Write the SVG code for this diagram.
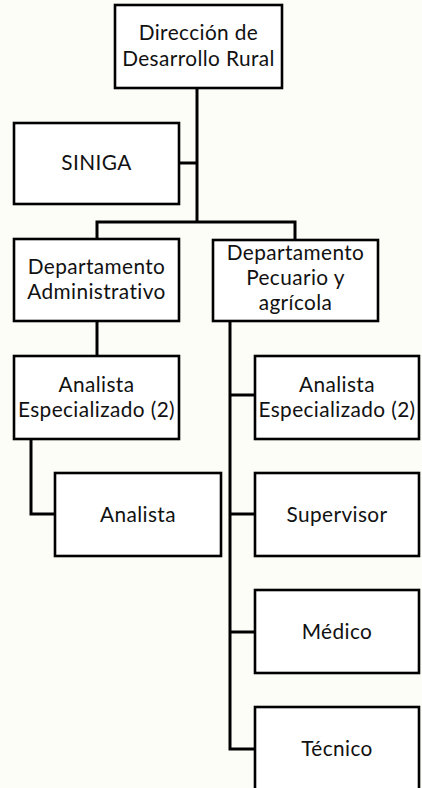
<svg xmlns="http://www.w3.org/2000/svg" width="422" height="788" viewBox="0 0 422 788">
<style>
.box{fill:#ffffff;stroke:#000000;stroke-width:2.6}
.lbl{font-family:Lato,"Noto Sans",sans-serif;font-size:20.8px;letter-spacing:0.4px;fill:#111111;text-anchor:middle}
.conn{fill:none;stroke:#000000;stroke-width:3}
</style>
<rect x="0" y="0" width="422" height="788" fill="#fdfdf8"/>
<g id="connectors">
<path class="conn" d="M197 88V222"/>
<path class="conn" d="M179 163H197"/>
<path class="conn" d="M97 239V222H295V240"/>
<path class="conn" d="M97 321V356"/>
<path class="conn" d="M31 439V514H55"/>
<path class="conn" d="M230 321V749H255"/>
<path class="conn" d="M230 395H255"/>
<path class="conn" d="M230 514H255"/>
<path class="conn" d="M230 632H255"/>
</g>
<g id="direccion">
<rect class="box" x="115" y="5" width="167" height="83"/>
<text class="lbl" x="198.5" y="40">Dirección de</text>
<text class="lbl" x="198.5" y="66">Desarrollo Rural</text>
</g>
<g id="siniga">
<rect class="box" x="14" y="123" width="165" height="81"/>
<text class="lbl" x="96.5" y="170">SINIGA</text>
</g>
<g id="dep-admin">
<rect class="box" x="14" y="239" width="165" height="82"/>
<text class="lbl" x="96.5" y="274">Departamento</text>
<text class="lbl" x="96.5" y="299">Administrativo</text>
</g>
<g id="dep-pecuario">
<rect class="box" x="213" y="240" width="165" height="81"/>
<text class="lbl" x="295.5" y="260">Departamento</text>
<text class="lbl" x="295.5" y="285">Pecuario y</text>
<text class="lbl" x="295.5" y="310">agrícola</text>
</g>
<g id="analista-esp-admin">
<rect class="box" x="14" y="356" width="165" height="83"/>
<text class="lbl" x="96.5" y="392">Analista</text>
<text class="lbl" x="96.5" y="417">Especializado (2)</text>
</g>
<g id="analista">
<rect class="box" x="55" y="473" width="166" height="83"/>
<text class="lbl" x="138" y="522">Analista</text>
</g>
<g id="analista-esp-pecuario">
<rect class="box" x="255" y="356" width="164" height="83"/>
<text class="lbl" x="337" y="392">Analista</text>
<text class="lbl" x="337" y="417">Especializado (2)</text>
</g>
<g id="supervisor">
<rect class="box" x="255" y="473" width="164" height="83"/>
<text class="lbl" x="337" y="522">Supervisor</text>
</g>
<g id="medico">
<rect class="box" x="255" y="590" width="164" height="83"/>
<text class="lbl" x="337" y="639">Médico</text>
</g>
<g id="tecnico">
<rect class="box" x="255" y="707" width="164" height="83"/>
<text class="lbl" x="337" y="756">Técnico</text>
</g>
</svg>
